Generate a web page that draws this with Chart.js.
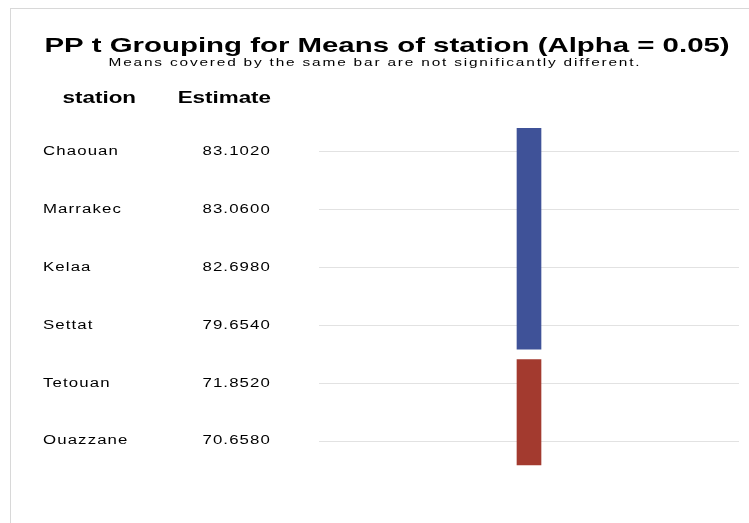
<!DOCTYPE html>
<html>
<head>
<script src="https://cdn.jsdelivr.net/npm/chart.js@4"></script>
<style>
  body { margin: 0; background: #fff; }
  #wrap { position: absolute; left: 10px; top: 8px; width: 740px; height: 520px; border: 1px solid #d8d8d8; box-sizing: border-box; }
</style>
</head>
<body>
<div id="wrap"><canvas id="c" width="738" height="518"></canvas></div>
<script>
const stations = ['Chaouan', 'Marrakec', 'Kelaa', 'Settat', 'Tetouan', 'Ouazzane'];
const estimates = ['83.1020', '83.0600', '82.6980', '79.6540', '71.8520', '70.6580'];
// grouping bars: first row index .. last row index (1-based)
const groupStart = [1, 5];
const groupEnd = [4, 6];
const groupColors = ['#3f5298', '#a33a2f'];

const SX = 1.4; // the original text is drawn horizontally stretched

const textPlugin = {
  id: 'texts',
  afterDraw(chart) {
    const ctx = chart.ctx;
    const y = chart.scales.y;
    ctx.save();
    ctx.fillStyle = '#000';
    ctx.textBaseline = 'alphabetic';
    ctx.textAlign = 'left';
    const put = (t, x, yy, align) => {
      const w = ctx.measureText(t).width * SX;
      if (align === 'center') x -= w / 2;
      if (align === 'right') x -= w;
      ctx.save();
      ctx.translate(x, yy);
      ctx.scale(SX, 1);
      ctx.fillText(t, 0, 0);
      ctx.restore();
    };
    ctx.letterSpacing = '0px';
    ctx.font = 'bold 21px "Liberation Sans", Arial, sans-serif';
    put('PP t Grouping for Means of station (Alpha = 0.05)', 376, 43, 'center');
    ctx.letterSpacing = '1.3px';
    ctx.font = '11px "Liberation Sans", Arial, sans-serif';
    put('Means covered by the same bar are not significantly different.', 364, 57, 'center');
    ctx.letterSpacing = '0px';
    ctx.font = 'bold 16px "Liberation Sans", Arial, sans-serif';
    put('station', 125, 94, 'right');
    put('Estimate', 260, 94, 'right');
    ctx.letterSpacing = '0.8px';
    ctx.font = '12px "Liberation Sans", Arial, sans-serif';
    ctx.textBaseline = 'middle';
    stations.forEach((s, i) => {
      const py = y.getPixelForValue(i + 1);
      put(s, 32, py, 'left');
      put(estimates[i], 260, py, 'right');
    });
    ctx.restore();
  }
};

new Chart(document.getElementById('c'), {
  type: 'bar',
  data: {
    labels: ['g'],
    datasets: groupStart.map((s, k) => ({
      data: [[s - 0.41, groupEnd[k] + 0.41]],
      backgroundColor: groupColors[k],
      barThickness: 24,
      grouped: false
    }))
  },
  options: {
    responsive: false,
    animation: false,
    layout: { padding: { left: 308, right: 10, top: 114, bottom: 57 } },
    plugins: { legend: { display: false }, tooltip: { enabled: false } },
    scales: {
      x: { display: false },
      y: {
        reverse: true, min: 0.5, max: 6.5,
        border: { display: false },
        ticks: { display: false, stepSize: 1 },
        afterBuildTicks(ax) { ax.ticks = [1, 2, 3, 4, 5, 6].map(v => ({ value: v })); },
        grid: { color: '#e2e2e2', drawTicks: false }
      }
    }
  },
  plugins: [textPlugin]
});
</script>
</body>
</html>
